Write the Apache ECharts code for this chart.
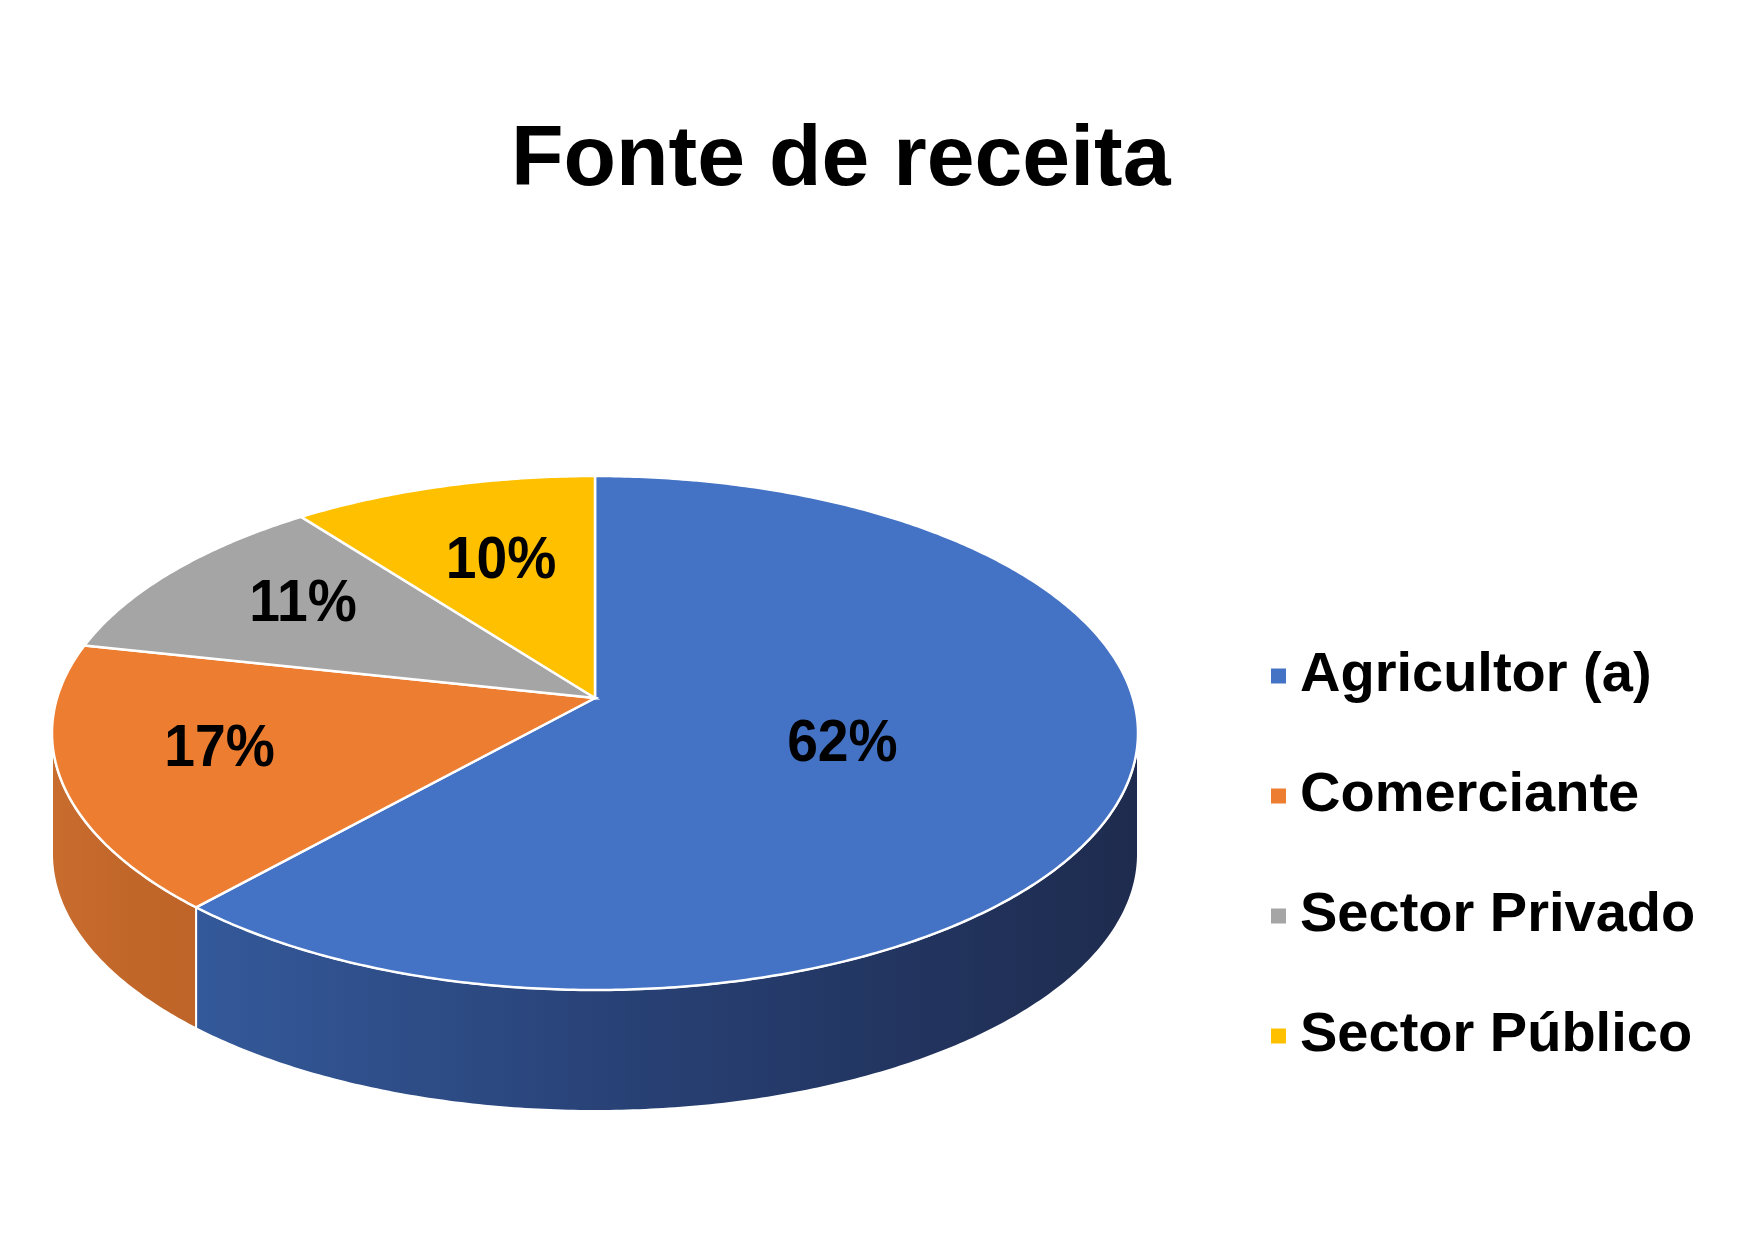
<!DOCTYPE html>
<html>
<head>
<meta charset="utf-8">
<title>Fonte de receita</title>
<script src="https://cdn.jsdelivr.net/npm/echarts@6/dist/echarts.min.js"></script>
<style>
    html, body { margin: 0; padding: 0; background: #fff; }
    #chart { width: 1749px; height: 1241px; }
</style>
</head>
<body>
<div id="chart"></div>
<script>
    // dados
    var categories = ['Agricultor (a)', 'Comerciante', 'Sector Privado', 'Sector Público'];
    var values = [62, 17, 11, 10];
    var colors = ['#4472C4', '#ED7D31', '#A5A5A5', '#FFC000'];
    var sideColors = [
        ['#34599A', '#273F72', '#1E2B4E'],
        ['#C86D2E', '#C2672A', '#BE6428']
    ];

    // geometria da pizza 3D (elipse + leve perspectiva)
    var cx = 595, cy = 733, rx = 543, ry = 257, depth = 121, vy = 698;
    var beta = 0.1;
    var labelR = [0.49, 0.72, 0.65, 0.56];

    var total = values.reduce(function (a, b) { return a + b; }, 0);
    var starts = [];
    var acc = 0;
    values.forEach(function (v) { starts.push(acc); acc += v; });

    // ponto da borda para o angulo t (0 = topo, sentido horario)
    function pt(t, dy) {
        var X = Math.sin(t), Y = Math.cos(t);
        var d = 1 + beta * Y;
        var x = X * Math.sqrt(1 - beta * beta) / d;
        var y = (Y + beta) / d;
        return [cx + rx * x, cy - ry * y + (dy || 0)];
    }

    function arc(t0, t1, dy) {
        var pts = [];
        var n = Math.max(8, Math.ceil((t1 - t0) / 0.01));
        for (var k = 0; k <= n; k++) {
            pts.push(pt(t0 + (t1 - t0) * k / n, dy));
        }
        return pts;
    }

    var frontA = Math.acos(-beta), frontB = Math.PI * 2 - Math.acos(-beta);

    function renderSlice(i) {
        return function (params, api) {
            var t0 = starts[i] / total * Math.PI * 2;
            var t1 = (starts[i] + values[i]) / total * Math.PI * 2;
            var children = [];

            // lateral visivel (metade da frente)
            var a = Math.max(t0, frontA), b = Math.min(t1, frontB);
            if (a < b) {
                var side = arc(a, b, 0).concat(arc(a, b, depth).reverse());
                var sc = sideColors[i] || [colors[i], colors[i], colors[i]];
                children.push({
                    type: 'polygon',
                    shape: { points: side },
                    style: {
                        fill: new echarts.graphic.LinearGradient(0, 0, 1, 0, [
                            { offset: 0, color: sc[0] },
                            { offset: 0.5, color: sc[1] },
                            { offset: 1, color: sc[2] }
                        ]),
                        stroke: '#fff',
                        lineWidth: 2
                    }
                });
            }

            // topo
            var top = [[cx, vy]].concat(arc(t0, t1, 0));
            children.push({
                type: 'polygon',
                shape: { points: top },
                style: { fill: colors[i], stroke: '#fff', lineWidth: 2.5 }
            });

            // rotulo
            var tm = (t0 + t1) / 2;
            children.push({
                type: 'text',
                x: cx + labelR[i] * rx * Math.sin(tm),
                y: vy - labelR[i] * ry * Math.cos(tm),
                scaleX: 0.92,
                z2: 10,
                style: {
                    text: Math.round(values[i] / total * 100) + '%',
                    fill: '#000',
                    fontSize: 60,
                    fontWeight: 'bold',
                    fontFamily: 'Liberation Sans, Arial, sans-serif',
                    align: 'center',
                    verticalAlign: 'middle'
                }
            });

            return { type: 'group', children: children };
        };
    }

    var chart = echarts.init(document.getElementById('chart'));
    chart.setOption({
        animation: false,
        color: colors,
        title: {
            text: 'Fonte de receita',
            left: 506,
            top: 113,
            textStyle: {
                fontSize: 86,
                fontWeight: 'bold',
                fontFamily: 'Liberation Sans, Arial, sans-serif',
                color: '#000'
            }
        },
        legend: {
            orient: 'vertical',
            left: 1266,
            top: 641,
            icon: 'rect',
            itemWidth: 15,
            itemHeight: 15,
            itemGap: 60,
            selectedMode: false,
            data: categories,
            textStyle: {
                fontSize: 56,
                lineHeight: 60,
                fontWeight: 'bold',
                fontFamily: 'Liberation Sans, Arial, sans-serif',
                color: '#000',
                padding: [0, 0, 0, 9]
            }
        },
        series: categories.map(function (name, i) {
            return {
                name: name,
                type: 'custom',
                coordinateSystem: 'none',
                silent: true,
                itemStyle: { color: colors[i] },
                renderItem: renderSlice(i),
                data: [values[i]]
            };
        })
    });
</script>
</body>
</html>
